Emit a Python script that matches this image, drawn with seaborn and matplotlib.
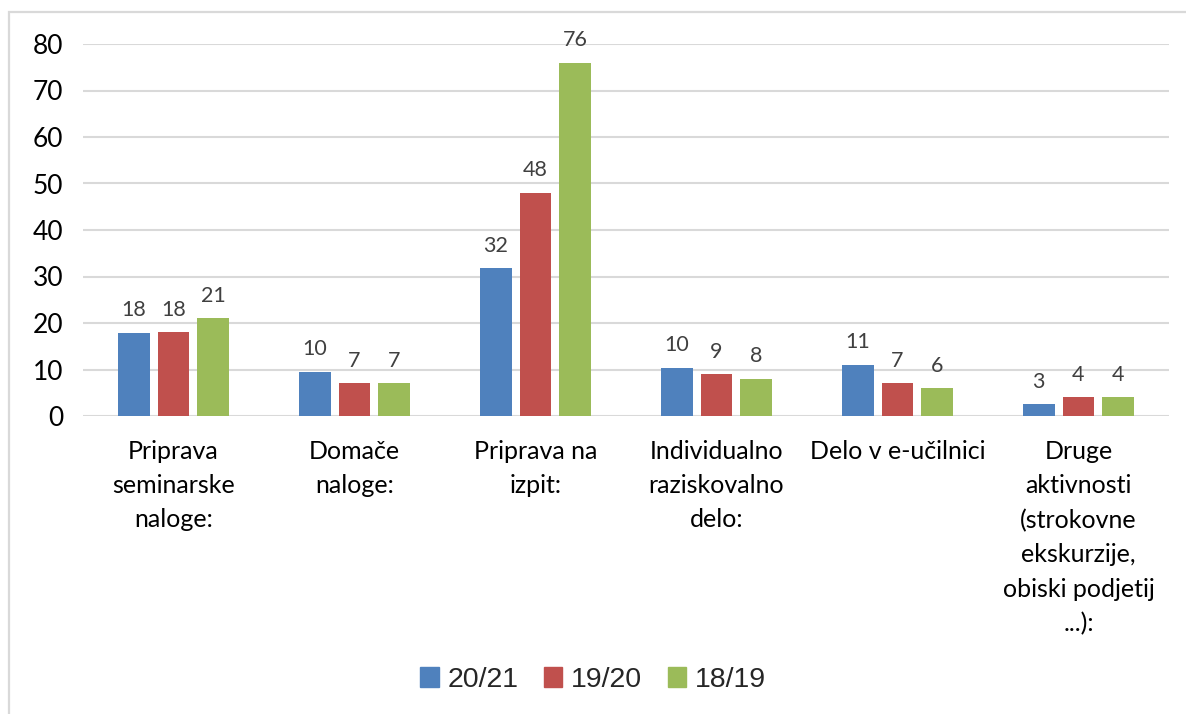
import numpy as np
import pandas as pd
import matplotlib
matplotlib.use("Agg")
import matplotlib.pyplot as plt
import matplotlib.patches as mpatches
import seaborn as sns

categories = ["Priprava\nseminarske\nnaloge:", "Domače\nnaloge:", "Priprava na\nizpit:",
              "Individualno\nraziskovalno\ndelo:", "Delo v e-učilnici",
              "Druge\naktivnosti\n(strokovne\nekskurzije,\nobiski podjetij\n...):"]
years = ["20/21", "19/20", "18/19"]
vals_2021 = [17.9, 9.5, 31.8, 10.4, 11.0, 2.5]
vals_1920 = [18.0, 7.0, 48.0, 9.0, 7.0, 4.0]
vals_1819 = [21.0, 7.0, 76.0, 8.0, 6.0, 4.0]
colors = ["#4F81BD", "#C0504D", "#9BBB59"]

df = pd.DataFrame({
    "cat": categories * 3,
    "year": [y for y in years for _ in categories],
    "val": vals_2021 + vals_1920 + vals_1819,
})

sns.set_theme(style="white")
plt.rcParams["font.family"] = ["Lato", "DejaVu Sans"]

fig = plt.figure(figsize=(11.86, 7.14), dpi=100)
ax = fig.add_axes([83 / 1186, 1 - 416 / 714, (1169 - 83) / 1186, (416 - 44) / 714])

sns.barplot(data=df, x="cat", y="val", hue="year", palette=colors, ax=ax,
            width=0.66, gap=0.2, linewidth=0, saturation=1, legend=True)

# data labels, rounded half up like Excel
for cont in ax.containers:
    labs = [str(int(np.floor(b.get_height() + 0.5))) for b in cont]
    ax.bar_label(cont, labels=labs, padding=9, fontsize=15.5, color="#404040")

ax.set_ylim(0, 80)
ax.set_yticks(range(0, 81, 10))
ax.yaxis.grid(True, color="#D9D9D9", linewidth=1.5)
ax.set_axisbelow(True)
for s in ax.spines.values():
    s.set_visible(False)
ax.set_xlabel("")
ax.set_ylabel("")
ax.tick_params(axis="y", length=0, pad=14, labelsize=19, labelcolor="black")
ax.tick_params(axis="x", length=0, pad=17, labelsize=18, labelcolor="black")
for t in ax.get_xticklabels():
    t.set_linespacing(1.6)
    t.set_va("top")

ax.legend_.remove()
handles = [mpatches.Patch(color=c, label=y) for c, y in zip(colors, years)]
fig.legend(handles=handles, loc="center", bbox_to_anchor=(0.5, 1 - 680 / 714), ncol=3,
           frameon=False, handlelength=0.65, handleheight=0.65, handletextpad=0.3,
           columnspacing=0.9, prop={"family": "Liberation Sans", "size": 20.5})

frame = mpatches.Rectangle((8.5 / 1186, -0.1), 1.2, 1.1 - 12.5 / 714, transform=fig.transFigure,
                           fill=False, edgecolor="#D9D9D9", linewidth=1.6, clip_on=False)
fig.patches.append(frame)

fig.savefig("out.png", dpi=100)
